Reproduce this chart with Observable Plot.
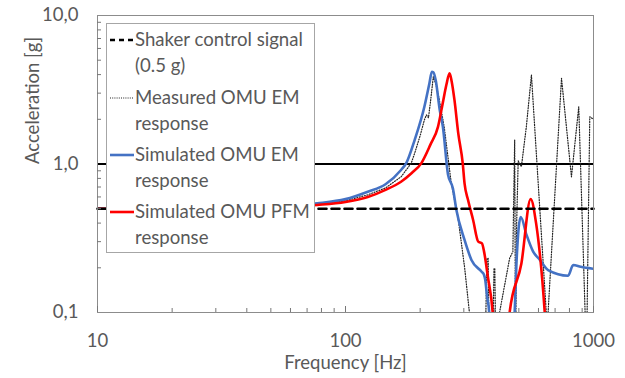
<!DOCTYPE html>
<html>
<head>
<meta charset="utf-8">
<script src="https://cdn.jsdelivr.net/npm/d3@7"></script>
<script src="https://cdn.jsdelivr.net/npm/@observablehq/plot@0.6"></script>
<style>
  body { margin: 0; background: #fff; }
  #wrap { position: relative; width: 625px; height: 378px; font-family: Lato, "Open Sans", sans-serif; color: #595959; }
  #legend { position: absolute; left: 106px; top: 23px; width: 207px; height: 228px; background: #fff; border: 1px solid #a6a6a6; }
  .lt { position: absolute; left: 28px; font-size: 18.6px; line-height: 20px; white-space: nowrap; color: #595959; }
  .ls { position: absolute; left: 3px; width: 24px; height: 6px; }
</style>
</head>
<body>
<div id="wrap"></div>
<script>
// ---- data ----
const shakerFreq = [10, 1000];
const shakerAcc  = [0.5, 0.5];

const measFreq = [10, 30, 50, 77, 100, 123, 145, 167.5, 184, 190, 200, 208, 212, 216, 220, 226, 232, 239, 250, 267, 284, 302, 316, 322, 365, 372, 376, 380, 392, 397, 400, 404, 412, 418, 459, 473, 481, 485, 490, 497, 512, 536, 562, 645, 650, 656, 743, 815, 872, 937, 966, 1000];
const measAcc  = [0.5, 0.505, 0.515, 0.535, 0.565, 0.62, 0.69, 0.82, 1.01, 1.18, 1.55, 1.98, 2.14, 2.05, 2.6, 3.87, 3.4, 2.7, 1.78, 0.74, 0.44, 0.203, 0.1, 0.05, 0.05, 0.232, 0.232, 0.05, 0.05, 0.198, 0.198, 0.05, 0.05, 0.1, 0.232, 0.257, 1.45, 0.05, 0.4, 1.05, 0.96, 1.78, 3.97, 0.1, 0.05, 0.1, 3.78, 0.82, 2.43, 0.05, 2.08, 2.0];

const emFreq = [10, 30, 50, 77, 100, 123, 145, 167.5, 175.6, 190, 208, 218, 223, 226, 231, 240, 247, 259, 271, 280, 302, 322, 354, 362, 366, 372, 380, 385, 470, 481, 489, 509, 537, 571, 608, 656, 790, 828, 888, 1000];
const emAcc  = [0.5, 0.508, 0.52, 0.544, 0.58, 0.651, 0.73, 0.911, 1.01, 1.45, 2.43, 3.5, 4.18, 4.15, 3.68, 2.3, 1.78, 0.85, 0.686, 0.49, 0.308, 0.226, 0.188, 0.179, 0.166, 0.13, 0.098, 0.06, 0.06, 0.1, 0.214, 0.44, 0.333, 0.257, 0.226, 0.193, 0.177, 0.209, 0.203, 0.197];

const pfmFreq = [10, 30, 50, 77, 100, 123, 145, 167.5, 185, 202, 220, 236, 247, 255, 262.8, 268, 275, 285, 297, 302, 312, 327, 343, 355, 362, 375, 392, 400, 450, 459, 512, 558, 587, 636, 645];
const pfmAcc  = [0.5, 0.503, 0.512, 0.53, 0.555, 0.6, 0.67, 0.76, 0.87, 1.01, 1.35, 1.78, 2.6, 3.4, 4.08, 3.6, 2.7, 1.6, 1.01, 0.74, 0.572, 0.42, 0.30, 0.292, 0.257, 0.174, 0.101, 0.06, 0.06, 0.1, 0.214, 0.58, 0.398, 0.1, 0.07];

const xTickValues = [10, 100, 1000];
const yTickValues = [0.1, 1, 10];
const xMinor = [20, 30, 40, 50, 60, 70, 80, 90, 200, 300, 400, 500, 600, 700, 800, 900];
const yMinor = [0.2, 0.3, 0.4, 0.5, 0.6, 0.7, 0.8, 0.9, 2, 3, 4, 5, 6, 7, 8, 9];
const gridY = [1];

const xTitle = "Frequency [Hz]";
const yTitle = "Acceleration [g]";
const legendItems = [
  ["Shaker control signal", "(0.5 g)"],
  ["Measured OMU EM", "response"],
  ["Simulated OMU EM", "response"],
  ["Simulated OMU PFM", "response"]
];

// ---- build ----
const toRows = (fs, as) => fs.map((f, i) => ({f, a: as[i]}));
const shaker = toRows(shakerFreq, shakerAcc);
const meas = toRows(measFreq, measAcc);
const em = toRows(emFreq, emAcc);
const pfm = toRows(pfmFreq, pfmAcc);

const W = 625, H = 378, mL = 97, mR = 32, mT = 15, mB = 66;
const innerH = H - mT - mB, innerW = W - mL - mR;

const blue = "#4472C4", red = "#FF0000";

const chart = Plot.plot({
  width: W, height: H,
  marginLeft: mL, marginRight: mR, marginTop: mT, marginBottom: mB,
  style: {fontFamily: "Lato, 'Open Sans', sans-serif", fontSize: "18.5px", color: "#595959", background: "#fff", overflow: "visible"},
  x: {type: "log", domain: [10, 1000]},
  y: {type: "log", domain: [0.1, 10]},
  marks: [
    Plot.ruleY(gridY, {stroke: "#000", strokeWidth: 1.2, shapeRendering: "crispEdges"}),
    Plot.line(meas, {x: "f", y: "a", stroke: "#222", strokeWidth: 1.2, strokeDasharray: "1 1.6", clip: true}),
    Plot.line(em, {x: "f", y: "a", stroke: blue, strokeWidth: 2.6, curve: "monotone-x", clip: true}),
    Plot.line(pfm, {x: "f", y: "a", stroke: red, strokeWidth: 2.6, curve: "monotone-x", clip: true}),
    Plot.line(shaker, {x: "f", y: "a", stroke: "#000", strokeWidth: 2.6, strokeDasharray: "8 5"}),
    Plot.frame({stroke: "#8c8c8c"}),
    Plot.ruleX(xMinor, {stroke: "#777", insetTop: innerH - 4}),
    Plot.ruleX(xTickValues, {stroke: "#777", insetTop: innerH - 6}),
    Plot.ruleY(yMinor, {stroke: "#777", insetRight: innerW - 4}),
    Plot.axisX(xTickValues, {tickSize: 0, tickPadding: 21, tickFormat: d => String(d), label: null}),
    Plot.axisY(yTickValues, {tickSize: 0, tickPadding: 19, tickFormat: d => d3.format(".1f")(d).replace(".", ","), label: null}),
    Plot.text([xTitle], {frameAnchor: "bottom", dy: 56, text: d => d, fill: "#595959"}),
    Plot.text([yTitle], {frameAnchor: "left", dx: -64, rotate: -90, text: d => d, fill: "#595959"})
  ]
});

const wrap = document.getElementById("wrap");
wrap.appendChild(chart);

// ---- legend overlay (inside plot area, as in reference) ----
const legend = document.createElement("div");
legend.id = "legend";
wrap.appendChild(legend);
const styles = [
  {stroke: "#000", dash: "5 4", w: 2.6},
  {stroke: "#222", dash: "1 1.2", w: 1.2},
  {stroke: blue, dash: null, w: 2.6},
  {stroke: red, dash: null, w: 2.6}
];
const firstCenters = [16, 74, 131, 188];
const secondGap = 26;
legendItems.forEach((lines, i) => {
  const c = firstCenters[i];
  const s = styles[i];
  const svg = document.createElementNS("http://www.w3.org/2000/svg", "svg");
  svg.setAttribute("class", "ls");
  svg.setAttribute("width", 24); svg.setAttribute("height", 6);
  svg.style.top = (c - 3) + "px";
  const ln = document.createElementNS("http://www.w3.org/2000/svg", "line");
  ln.setAttribute("x1", 0); ln.setAttribute("x2", 24);
  ln.setAttribute("y1", 3); ln.setAttribute("y2", 3);
  ln.setAttribute("stroke", s.stroke);
  ln.setAttribute("stroke-width", s.w);
  if (s.dash) ln.setAttribute("stroke-dasharray", s.dash);
  svg.appendChild(ln);
  legend.appendChild(svg);
  lines.forEach((t, j) => {
    const d = document.createElement("div");
    d.className = "lt";
    d.textContent = t;
    d.style.top = (c + j * secondGap - 11) + "px";
    legend.appendChild(d);
  });
});
</script>
</body>
</html>
